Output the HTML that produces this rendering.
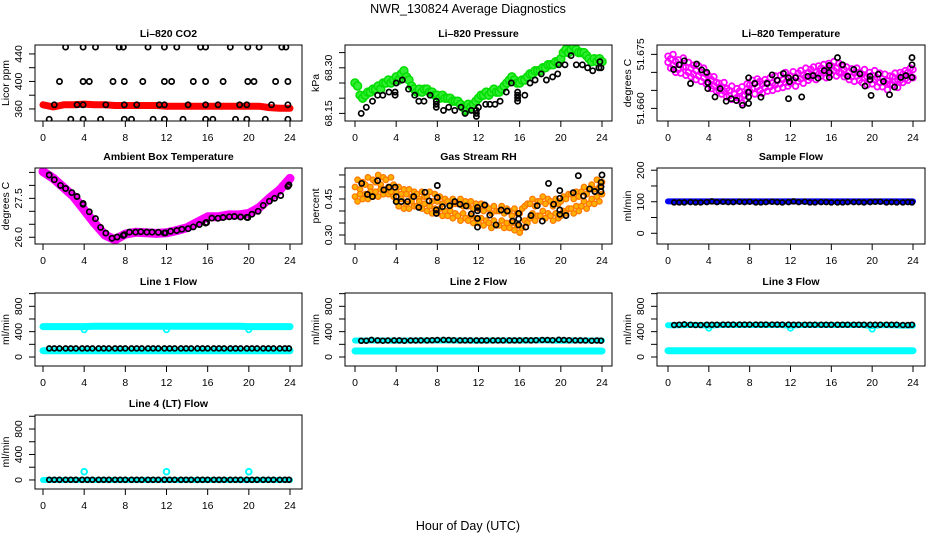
<!DOCTYPE html>
<html><head><meta charset="utf-8"><title>NWR_130824 Average Diagnostics</title>
<style>
html,body{margin:0;padding:0;background:#fff;}
svg{display:block;font-family:"Liberation Sans",sans-serif;}
</style></head>
<body>
<svg id="chart" width="936" height="540" viewBox="0 0 936 540">
<rect x="0" y="0" width="936" height="540" fill="#fff"/>
<text x="468" y="13" text-anchor="middle" font-size="12.5">NWR_130824  Average Diagnostics</text>
<text x="468" y="530" text-anchor="middle" font-size="12.5">Hour of Day (UTC)</text>
</svg>
<script>
// ---------- DATA ----------
const hoursQ = [0,0.25,0.5,0.75,1,1.25,1.5,1.75,2,2.25,2.5,2.75,3,3.25,3.5,3.75,4,4.25,4.5,4.75,5,5.25,5.5,5.75,6,6.25,6.5,6.75,7,7.25,7.5,7.75,8,8.25,8.5,8.75,9,9.25,9.5,9.75,10,10.25,10.5,10.75,11,11.25,11.5,11.75,12,12.25,12.5,12.75,13,13.25,13.5,13.75,14,14.25,14.5,14.75,15,15.25,15.5,15.75,16,16.25,16.5,16.75,17,17.25,17.5,17.75,18,18.25,18.5,18.75,19,19.25,19.5,19.75,20,20.25,20.5,20.75,21,21.25,21.5,21.75,22,22.25,22.5,22.75,23,23.25,23.5,23.75,24];
const hoursH = [0,1,2,3,4,5,6,7,8,9,10,11,12,13,14,15,16,17,18,19,20,21,22,23,24];
const flowTimes = [0.6,1.1,1.6,2.2,2.7,3.2,3.8,4.3,4.8,5.4,5.9,6.4,7.0,7.5,8.0,8.6,9.1,9.6,10.2,10.7,11.2,11.8,12.3,12.8,13.4,13.9,14.4,15.0,15.5,16.0,16.6,17.1,17.6,18.2,18.7,19.2,19.8,20.3,20.8,21.4,21.9,22.4,23.0,23.5,23.9];

// CO2
const co2Band = [366,363,366,366,367,366,366,365,365,365,365,365,364,364,364,364,364,364,364,364,364,364,362,361,361];
const co2AvgX = [2.2,3.9,5.1,7.4,7.8,10.2,11.8,13,15.3,15.8,18.2,19.9,21,23.2,23.6, 1.6,3.9,4.5,6.8,7.9,9.7,11.8,12.5,14.6,15.8,17.5,19.9,20.5,22.6,23.8, 1.1,3.3,3.9,6.1,7.9,9.1,11.3,11.8,14.1,15.8,17,19.1,19.8,22.2,23.8, 0.6,2.7,3.9,5.6,7.9,8.6,10.7,11.8,13.6,15.8,16.5,18.7,19.8,21.6,23.8];
const co2AvgY = [450,450,450,450,450,450,450,450,450,450,450,450,450,450,450, 400,400,400,400,400,400,400,400,400,400,400,400,400,400,400, 366,366,366,366,366,366,366,366,366,366,366,366,366,366,366, 345,345,345,345,345,345,345,345,345,345,345,345,345,345,345];

// Pressure
const presRaw = [68.25,68.24,68.21,68.20,68.21,68.22,68.22,68.23,68.23,68.24,68.23,68.25,68.25,68.26,68.25,68.26,68.27,68.26,68.28,68.29,68.27,68.26,68.24,68.23,68.22,68.23,68.22,68.23,68.23,68.22,68.22,68.21,68.21,68.20,68.21,68.20,68.20,68.20,68.19,68.19,68.19,68.18,68.17,68.16,68.18,68.17,68.18,68.19,68.20,68.21,68.21,68.22,68.21,68.22,68.23,68.22,68.22,68.23,68.24,68.25,68.26,68.27,68.26,68.25,68.25,68.26,68.26,68.27,68.28,68.28,68.29,68.29,68.29,68.30,68.30,68.31,68.31,68.31,68.32,68.32,68.33,68.35,68.36,68.35,68.36,68.37,68.36,68.35,68.35,68.35,68.34,68.33,68.32,68.33,68.32,68.33,68.32];
const presAvgX = [0.6,1.1,1.7,2.2,2.7,3.3,3.9,3.9,4.0,4.6,5.2,5.8,6.2,6.7,7.3,7.9,7.9,7.9,8.6,9.1,9.7,10.3,10.7,11.3,11.8,11.8,11.8,12.0,12.7,13.1,13.6,14.1,14.7,15.2,15.8,15.8,15.8,15.8,16.5,17.0,17.5,18.1,18.6,19.2,19.7,19.8,20.4,21.0,21.5,22.1,22.6,23.1,23.7,23.8,23.9];
const presAvgY = [68.15,68.17,68.19,68.21,68.21,68.22,68.21,68.22,68.25,68.26,68.23,68.21,68.19,68.19,68.21,68.19,68.18,68.17,68.16,68.17,68.16,68.17,68.15,68.16,68.16,68.15,68.14,68.17,68.18,68.18,68.18,68.19,68.22,68.25,68.22,68.21,68.20,68.19,68.21,68.25,68.26,68.28,68.26,68.27,68.28,68.31,68.31,68.34,68.31,68.31,68.30,68.29,68.30,68.32,68.30];

// Li-820 temperature
const tempRawA = [51.6745,51.6738,51.6750,51.6730,51.6735,51.6722,51.6740,51.6715,51.6728,51.6712,51.6720,51.6705,51.6718,51.6700,51.6712,51.6695,51.6690,51.6680,51.6688,51.6672,51.6670,51.6660,51.6672,51.6655,51.6650,51.6662,51.6640,51.6655,51.6648,51.6660,51.6635,51.6668,51.6665,51.6678,51.6670,51.6682,51.6675,51.6668,51.6680,51.6672,51.6685,51.6670,51.6690,51.6678,51.6692,51.6680,51.6700,51.6685,51.6690,51.6702,51.6688,51.6698,51.6705,51.6692,51.6712,51.6700,51.6708,51.6715,51.6700,51.6718,51.6712,51.6722,51.6705,51.6725,51.6718,51.6730,51.6712,51.6725,51.6720,51.6708,51.6715,51.6702,51.6710,51.6698,51.6712,51.6700,51.6695,51.6708,51.6688,51.6700,51.6692,51.6705,51.6685,51.6698,51.6682,51.6695,51.6676,51.6690,51.6688,51.6698,51.6680,51.6700,51.6695,51.6705,51.6700,51.6712,51.6708];
const tempRawB = [51.6728,51.6712,51.6720,51.6700,51.6708,51.6698,51.6715,51.6692,51.6700,51.6688,51.6695,51.6680,51.6690,51.6675,51.6685,51.6668,51.6670,51.6655,51.6662,51.6648,51.6650,51.6640,51.6648,51.6632,51.6635,51.6625,51.6640,51.6630,51.6628,51.6615,51.6638,51.6645,51.6648,51.6655,51.6640,51.6660,51.6650,51.6642,51.6658,51.6648,51.6660,51.6650,51.6665,51.6655,51.6668,51.6658,51.6672,51.6662,51.6670,51.6678,51.6662,51.6675,51.6682,51.6670,51.6688,51.6678,51.6685,51.6692,51.6680,51.6695,51.6690,51.6698,51.6685,51.6702,51.6695,51.6705,51.6690,51.6700,51.6698,51.6688,51.6692,51.6680,51.6688,51.6675,51.6690,51.6678,51.6672,51.6685,51.6665,51.6678,51.6668,51.6680,51.6660,51.6672,51.6660,51.6672,51.6652,51.6668,51.6665,51.6675,51.6658,51.6678,51.6672,51.6682,51.6678,51.6690,51.6685];
const tempAvgX = [0.55,1.1,1.6,2.2,2.8,3.3,3.8,3.9,3.9,4.6,5.1,5.7,6.2,6.7,7.3,7.9,7.9,7.9,7.9,8.5,9.1,9.7,10.2,10.7,11.3,11.8,11.9,11.8,12.5,13.1,13.7,14.2,14.7,15.3,15.8,15.8,15.8,16.6,17.1,17.6,18.2,18.8,19.3,19.8,19.8,19.9,20.6,21.1,21.7,22.2,22.8,23.3,23.9,23.9,23.9];
const tempAvgY = [51.6708,51.6721,51.6732,51.6669,51.6723,51.6707,51.6700,51.6672,51.6655,51.6632,51.6655,51.6620,51.6627,51.6622,51.6609,51.6685,51.6645,51.6632,51.6614,51.6669,51.6631,51.6669,51.6693,51.6678,51.6697,51.6685,51.6674,51.6627,51.6685,51.6632,51.6689,51.6691,51.6684,51.6705,51.6719,51.6700,51.6686,51.6741,51.6721,51.6689,51.6708,51.6696,51.6662,51.6689,51.6680,51.6636,51.6695,51.6675,51.6638,51.6659,51.6686,51.6691,51.6741,51.6721,51.6686];

// Ambient box temperature
const ambBand = [28.53,28.27,27.92,27.56,27.05,26.54,26.09,25.90,26.12,26.19,26.17,26.15,26.17,26.26,26.37,26.58,26.79,26.79,26.86,26.86,26.92,27.14,27.50,27.82,28.27];
const ambAvgX = [0.6,1.1,1.7,2.2,2.8,3.3,3.9,3.9,4.5,5.1,5.6,6.1,6.7,7.2,7.8,7.9,8.4,9.0,9.5,10.1,10.6,11.2,11.8,11.9,12.4,13.0,13.5,14.1,14.6,15.2,15.8,15.9,16.4,17.0,17.5,18.1,18.6,19.2,19.8,19.9,20.3,20.9,21.4,22.0,22.5,23.1,23.8,23.9];
const ambAvgY = [28.40,28.22,28.00,27.88,27.72,27.57,27.30,27.27,26.98,26.72,26.38,26.16,25.96,26.01,26.07,26.10,26.20,26.20,26.21,26.20,26.20,26.19,26.16,26.17,26.23,26.26,26.31,26.33,26.40,26.49,26.55,26.57,26.74,26.73,26.76,26.79,26.80,26.78,26.77,26.76,26.89,27.00,27.23,27.39,27.50,27.61,27.96,28.02];

// Gas stream RH
const rhRawA = [.50,.53,.49,.52,.51,.54,.50,.53,.52,.55,.51,.54,.53,.50,.54,.51,.48,.50,.47,.49,.47,.49,.46,.48,.47,.45,.48,.46,.46,.48,.44,.47,.44,.46,.43,.45,.44,.42,.45,.43,.43,.45,.42,.44,.42,.44,.41,.43,.41,.43,.40,.42,.41,.39,.42,.40,.40,.42,.39,.41,.40,.38,.41,.39,.39,.41,.42,.43,.43,.45,.42,.44,.44,.46,.43,.45,.44,.42,.45,.43,.44,.46,.45,.47,.47,.45,.48,.46,.48,.50,.47,.49,.51,.49,.53,.50,.52];
const rhRawB = [.46,.44,.47,.45,.47,.45,.48,.46,.48,.46,.49,.47,.49,.47,.48,.46,.44,.42,.45,.41,.43,.41,.44,.42,.42,.44,.41,.43,.40,.42,.39,.41,.39,.41,.38,.40,.38,.40,.37,.39,.38,.36,.39,.37,.36,.38,.35,.37,.35,.37,.34,.36,.35,.33,.36,.34,.34,.36,.33,.35,.33,.35,.32,.34,.31,.33,.36,.35,.37,.39,.36,.38,.38,.40,.37,.39,.38,.36,.39,.37,.38,.40,.39,.41,.41,.39,.42,.40,.42,.44,.41,.43,.45,.43,.46,.44,.47];
const rhAvgX = [0.65,1.2,1.7,2.2,2.8,3.3,3.9,4.0,4.0,4.5,5.1,5.7,6.2,6.8,7.2,7.9,7.9,8.0,8.0,8.5,9.2,9.7,10.2,10.8,11.3,11.9,11.9,11.9,11.9,12.6,13.1,13.7,14.2,14.8,15.3,15.9,15.9,15.9,16.6,17.1,17.7,18.2,18.8,19.3,19.9,19.9,19.9,19.9,20.5,21.2,21.7,22.2,22.8,23.3,23.9,23.9,23.9,24.0];
const rhAvgY = [.515,.469,.460,.526,.488,.499,.499,.460,.439,.439,.439,.460,.415,.478,.442,.404,.390,.506,.456,.418,.422,.439,.428,.421,.388,.401,.415,.369,.333,.425,.383,.342,.404,.400,.358,.390,.367,.342,.333,.381,.422,.358,.515,.428,.485,.453,.404,.386,.381,.476,.547,.463,.492,.481,.519,.501,.481,.550];

// Sample flow
const sampleBand = [101,101,101,101,101,101,101,101,101,101,101,101,101,101,101,101,101,101,101,101,101,101,101,101,101];
const sampleAvg = [98,98,98,99,98,98,99,101,99,100,99,99,100,99,100,98,98,99,100,99,98,99,101,99,100,98,98,99,99,98,98,98,99,99,99,98,99,100,100,98,99,98,98,99,98];

// Line flows
const line1Upper = [480,480,480,480,480,485,485,485,485,485,485,485,485,485,485,485,485,485,485,485,480,480,480,480,480];
const line1Lower = [100,100,100,100,100,100,100,100,100,100,100,100,100,100,100,100,100,100,100,100,100,100,100,100,100];
const line1Avg = [135,135,135,135,135,135,135,135,135,135,135,135,135,135,135,135,135,135,135,135,135,135,135,135,135,135,135,135,135,135,135,135,135,135,135,135,135,135,135,135,135,135,135,135,135];
const line2Upper = [260,260,260,260,255,260,260,260,260,260,260,260,255,260,260,260,260,260,265,260,255,260,260,260,260];
const line2Lower = [95,95,95,95,95,95,95,95,95,95,95,95,95,95,95,95,95,95,95,95,95,95,95,95,95];
const line2Avg = [255,258,270,262,258,260,262,262,258,260,260,262,262,265,268,270,268,265,262,262,262,262,262,262,262,262,262,262,262,262,265,262,265,268,268,265,272,268,265,262,262,260,258,260,258];
const line3Upper = [500,500,505,505,495,505,505,505,505,505,505,505,495,505,505,505,505,505,505,505,490,505,500,495,495];
const line3Lower = [100,100,100,100,100,100,100,100,100,100,100,100,100,100,100,100,100,100,100,100,100,100,100,100,100];
const line3Avg = [505,510,515,510,505,505,510,510,510,512,512,512,512,512,512,512,512,512,512,512,512,512,510,510,510,510,510,510,510,510,510,510,510,510,510,510,510,510,510,510,510,510,505,505,510];
const line4Band = [0,0,0,0,0,0,0,0,0,0,0,0,0,0,0,0,0,0,0,0,0,0,0,0,0];
const line4Avg = [2,2,2,2,2,2,2,2,2,2,2,2,2,2,2,2,2,2,2,2,2,2,2,2,2,2,2,2,2,2,2,2,2,2,2,2,2,2,2,2,2,2,2,2,2];
const dipHours = [4,12,20];
const line1Dips = [430,430,430];
const line3Dips = [455,455,440];
const line4Spikes = [130,130,130];

// ---------- DRAWING ----------
const svg = document.getElementById('chart');
const NS = 'http://www.w3.org/2000/svg';
const cols = [{l:35,r:302,x0:43,x24:290},{l:345,r:612,x0:355,x24:602},{l:657,r:925,x0:668,x24:913}];
const rows = [{t:45,b:121},{t:168,b:244},{t:293,b:366},{t:415,b:489}];

function mk(tag, attrs, parent){
  const e = document.createElementNS(NS, tag);
  for (const k in attrs) e.setAttribute(k, attrs[k]);
  (parent||svg).appendChild(e);
  return e;
}

function panel(id, title, ci, ri, ymin, ymax, ticks, labels, ylab){
  const c = cols[ci], r = rows[ri];
  const g = mk('g', {});
  
  
  const xs = h => c.x0 + (h/24)*(c.x24 - c.x0);
  const ys = v => r.t + (ymax - v)/(ymax - ymin)*(r.b - r.t);
  const t = mk('text', {x:(c.l+c.r)/2, y:r.t-8, 'text-anchor':'middle', 'font-size':10.5, 'font-weight':'bold'}, g);
  t.textContent = title;
  
  
  const xa = mk('g', {}, g);
  
  
  mk('line', {x1:xs(0), x2:xs(24), y1:r.b, y2:r.b, stroke:'#000'}, xa);
  [0,4,8,12,16,20,24].forEach(h => {
    mk('line', {x1:xs(h), x2:xs(h), y1:r.b, y2:r.b+6, stroke:'#000'}, xa);
    const tl = mk('text', {x:xs(h), y:r.b+20, 'text-anchor':'middle', 'font-size':10.5}, xa);
    tl.textContent = h;
    
    
  });
  const ya = mk('g', {}, g);
  
  
  mk('line', {x1:c.l, x2:c.l, y1:ys(ticks[0]), y2:ys(ticks[ticks.length-1]), stroke:'#000'}, ya);
  ticks.forEach(v => mk('line', {x1:c.l-6, x2:c.l, y1:ys(v), y2:ys(v), stroke:'#000'}, ya));
  labels.forEach(lb => {
    const yy = ys(parseFloat(lb));
    const lx = c.l-13;
    const tl = mk('text', {x:lx, y:yy, 'text-anchor':'middle', 'font-size':10.5, transform:`rotate(-90 ${lx} ${yy})`}, ya);
    tl.textContent = lb;
    
    
  });
  const my = (r.t+r.b)/2;
  const tx = c.l-26;
  const yl = mk('text', {x:tx, y:my, 'text-anchor':'middle', 'font-size':10.5, transform:`rotate(-90 ${tx} ${my})`}, g);
  yl.textContent = ylab;
  
  
  const cp = mk('clipPath', {id:'clip-'+id}, g);
  mk('rect', {x:c.l, y:r.t, width:c.r-c.l, height:r.b-r.t}, cp);
  const plot = mk('g', {'clip-path':`url(#clip-${id})`}, g);
  
  
  mk('rect', {x:c.l, y:r.t, width:c.r-c.l, height:r.b-r.t, fill:'none', stroke:'#000'}, g);
  return {plot, xs, ys};
}

function band(p, name, xarr, yarr, color, w){
  const pts = xarr.map((h,i) => p.xs(h).toFixed(1)+','+p.ys(yarr[i]).toFixed(1)).join(' ');
  const e = mk('polyline', {points:pts, fill:'none', stroke:color, 'stroke-width':w, 'stroke-linejoin':'round', 'stroke-linecap':'round'}, p.plot);
  
  
}
function dots(p, name, xarr, yarr, stroke, fill, rad, sw){
  const g = mk('g', {}, p.plot);
  
  
  xarr.forEach((h,i) => {
    const c = mk('circle', {cx:p.xs(h).toFixed(1), cy:p.ys(yarr[i]).toFixed(1), r:rad, fill:fill, stroke:stroke, 'stroke-width':sw}, g);
    
    
  });
}

let p = panel('co2', 'Li\u2013820 CO2', 0, 0, 342.5, 453, [360,380,400,420,440], ['360','400','440'], 'Licor ppm');
band(p, 'co2-raw-band', hoursH, co2Band, '#ff0000', 7);
dots(p, 'co2-average', co2AvgX, co2AvgY, '#000', 'none', 2.6, 1.7);

p = panel('pressure', 'Li\u2013820 Pressure', 1, 0, 68.125, 68.375, [68.15,68.20,68.25,68.30,68.35], ['68.15','68.30'], 'kPa');
dots(p, 'pressure-raw', hoursQ, presRaw, '#00dd00', '#33ee33', 4, 1.5);
dots(p, 'pressure-average', presAvgX, presAvgY, '#000', 'none', 2.6, 1.7);

p = panel('li820-temp', 'Li\u2013820 Temperature', 2, 0, 51.6565, 51.6776, [51.660,51.665,51.670,51.675], ['51.660','51.675'], 'degrees C');
dots(p, 'li820-temp-raw-a', hoursQ, tempRawA, '#ff00ff', 'none', 2.8, 1.8);
dots(p, 'li820-temp-raw-b', hoursQ, tempRawB, '#ff00ff', 'none', 2.8, 1.8);
dots(p, 'li820-temp-average', tempAvgX, tempAvgY, '#000', 'none', 2.6, 1.7);

p = panel('ambient-temp', 'Ambient Box Temperature', 0, 1, 25.74, 28.67, [26.0,26.5,27.0,27.5,28.0,28.5], ['26.0','27.5'], 'degrees C');
band(p, 'ambient-temp-raw-band', hoursH, ambBand, '#ff00ff', 9);
dots(p, 'ambient-temp-average', ambAvgX, ambAvgY, '#000', 'none', 2.6, 1.7);

p = panel('rh', 'Gas Stream RH', 1, 1, 0.2625, 0.579, [0.30,0.35,0.40,0.45,0.50,0.55], ['0.30','0.45'], 'percent');
dots(p, 'rh-raw-a', hoursQ, rhRawA, '#ff7700', '#ffb000', 2.8, 1.2);
dots(p, 'rh-raw-b', hoursQ, rhRawB, '#ff7700', '#ffb000', 2.8, 1.2);
dots(p, 'rh-average', rhAvgX, rhAvgY, '#000', 'none', 2.6, 1.7);

p = panel('sample-flow', 'Sample Flow', 2, 1, -34, 207, [0,50,100,150,200], ['0','100','200'], 'ml/min');
band(p, 'sample-flow-raw-band', hoursH, sampleBand, '#0000ff', 6);
dots(p, 'sample-flow-average', flowTimes, sampleAvg, '#000', 'none', 2.4, 1.7);

const flowTicks = [0,200,400,600,800,1000];
const flowLabels = ['0','400','800'];
p = panel('line1-flow', 'Line 1 Flow', 0, 2, -142, 1010, flowTicks, flowLabels, 'ml/min');
band(p, 'line1-upper-band', hoursH, line1Upper, '#00ffff', 7);
band(p, 'line1-lower-band', hoursH, line1Lower, '#00ffff', 7);
dots(p, 'line1-dips', dipHours, line1Dips, '#00ffff', 'none', 2.6, 1.8);
dots(p, 'line1-average', flowTimes, line1Avg, '#000', 'none', 2.4, 1.7);
p = panel('line2-flow', 'Line 2 Flow', 1, 2, -142, 1010, flowTicks, flowLabels, 'ml/min');
band(p, 'line2-upper-band', hoursH, line2Upper, '#00ffff', 6);
band(p, 'line2-lower-band', hoursH, line2Lower, '#00ffff', 7);
dots(p, 'line2-average', flowTimes, line2Avg, '#000', 'none', 2.4, 1.7);
p = panel('line3-flow', 'Line 3 Flow', 2, 2, -142, 1010, flowTicks, flowLabels, 'ml/min');
band(p, 'line3-upper-band', hoursH, line3Upper, '#00ffff', 6);
band(p, 'line3-lower-band', hoursH, line3Lower, '#00ffff', 7);
dots(p, 'line3-dips', dipHours, line3Dips, '#00ffff', 'none', 2.6, 1.8);
dots(p, 'line3-average', flowTimes, line3Avg, '#000', 'none', 2.4, 1.7);
p = panel('line4-flow', 'Line 4 (LT) Flow', 0, 3, -142, 1020, flowTicks, flowLabels, 'ml/min');
band(p, 'line4-band', hoursH, line4Band, '#00ffff', 6);
dots(p, 'line4-spikes', dipHours, line4Spikes, '#00ffff', 'none', 2.8, 2);
dots(p, 'line4-average', flowTimes, line4Avg, '#000', 'none', 2.4, 1.8);
</script>
</body></html>
